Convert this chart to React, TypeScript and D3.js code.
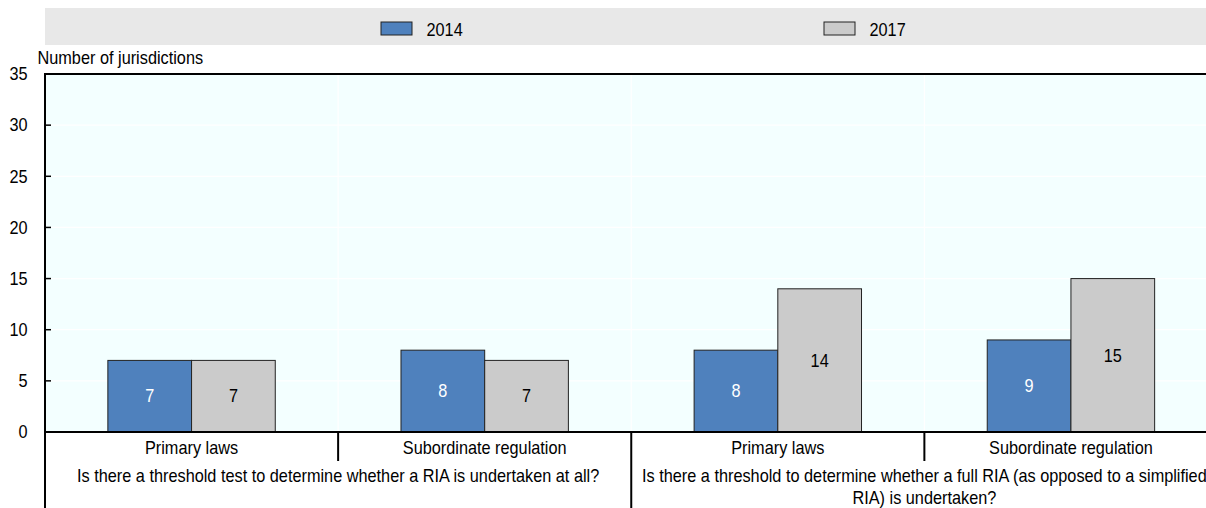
import React from "react";
import * as d3 from "d3";

const seriesNames = ["2014", "2017"];
const categories = ["Primary laws", "Subordinate regulation", "Primary laws", "Subordinate regulation"];
const categoryGroup = [0, 0, 1, 1];
const groupLabelLines = [
  ["Is there a threshold test to determine whether a RIA is undertaken at all?"],
  ["Is there a threshold to determine whether a full RIA (as opposed to a simplified", "RIA) is undertaken?"],
];
const values2014 = [7, 8, 8, 9];
const values2017 = [7, 7, 14, 15];
const yTicks = [0, 5, 10, 15, 20, 25, 30, 35];
const yAxisTitle = "Number of jurisdictions";

const W = 1206;
const H = 508;
const FONT = "'Liberation Sans', Arial, sans-serif";
const COLORS = ["#4f81bd", "#cbcbcb"];
const TEXT_COLORS = ["#ffffff", "#000000"];
const FS = 18;
const SX = 0.905;

function T({ x, y, anchor = "start", fill = "#000", children }: { x: number; y: number; anchor?: string; fill?: string; children: React.ReactNode }) {
  return (
    <g transform={`translate(${x},${y}) scale(${SX},1)`}>
      <text x={0} y={0} textAnchor={anchor as any} dominantBaseline="central" fontSize={FS} fill={fill}>{children}</text>
    </g>
  );
}

export default function App() {
  const left = 45;
  const top = 74;
  const bottom = 432;
  const plotRight = 1217.5;

  const x = d3.scaleBand<number>().domain(categories.map((_, i) => i)).range([left, plotRight]).padding(0);
  const bw = x.bandwidth();
  const xs = d3.scaleBand<string>().domain(seriesNames).range([0, bw]).paddingInner(0).paddingOuter(0.751);
  const y = d3.scaleLinear().domain([0, 35]).range([bottom, top]);

  const seriesValues = [values2014, values2017];
  const nGroups = groupLabelLines.length;
  const groupExtent = d3.range(nGroups).map((g) => {
    const idx = categories.map((_, i) => i).filter((i) => categoryGroup[i] === g);
    const x0 = x(idx[0])!;
    const x1 = x(idx[idx.length - 1])! + bw;
    return [x0, x1];
  });

  return (
    <div style={{ position: "absolute", left: 0, top: 0 }}>
      <svg width={W} height={H} style={{ display: "block", fontFamily: FONT }}>
        <rect x={0} y={0} width={W} height={H} fill="#ffffff" />
        {/* legend band */}
        <rect x={45} y={8} width={W - 45} height={37} fill="#e8e8e8" />
        {seriesNames.map((s, i) => {
          const lx = i === 0 ? 381 : 824;
          return (
            <g key={s}>
              <rect x={lx} y={22} width={31} height={13} fill={COLORS[i]} stroke="#222" strokeWidth={1} />
              <T x={lx + 45.5} y={29.5}>{s}</T>
            </g>
          );
        })}
        {/* plot background */}
        <rect x={left} y={top} width={W - left} height={bottom - top} fill="#f3ffff" />
        {yTicks.filter((t) => t > 0 && t < 35).map((t) => (
          <line key={t} x1={left} x2={W} y1={y(t)} y2={y(t)} stroke="#ffffff" strokeWidth={1.2} />
        ))}
        {categories.slice(1).map((_, i) => (
          <line key={i} x1={x(i + 1)!} x2={x(i + 1)!} y1={top} y2={bottom} stroke="#ffffff" strokeWidth={1.2} />
        ))}
        {/* bars */}
        {seriesNames.map((s, si) =>
          seriesValues[si].map((v, ci) => {
            const bx = x(ci)! + xs(s)!;
            const by = y(v);
            return (
              <g key={s + ci}>
                <rect x={bx} y={by} width={xs.bandwidth()} height={bottom - by} fill={COLORS[si]} stroke="#222" strokeWidth={1} />
                <T x={bx + xs.bandwidth() / 2} y={(by + bottom) / 2} anchor="middle" fill={TEXT_COLORS[si]}>{v}</T>
              </g>
            );
          })
        )}
        {/* axes */}
        <line x1={left} x2={W} y1={top} y2={top} stroke="#000" strokeWidth={2} />
        <line x1={left} x2={W} y1={bottom} y2={bottom} stroke="#000" strokeWidth={2} />
        <line x1={left} x2={left} y1={top - 1} y2={H} stroke="#000" strokeWidth={2} />
        {yTicks.map((t) => (
          <g key={t}>
            {t > 0 && t < 35 && <line x1={left} x2={left + 6} y1={y(t)} y2={y(t)} stroke="#000" strokeWidth={1.5} />}
            <T x={27.5} y={y(t)} anchor="end">{t}</T>
          </g>
        ))}
        <T x={37.5} y={57.5}>{yAxisTitle}</T>
        {/* category separators */}
        {categories.map((_, i) => {
          const bx = x(i)! + bw;
          const isGroupEnd = i === categories.length - 1 || categoryGroup[i] !== categoryGroup[i + 1];
          return <line key={i} x1={bx} x2={bx} y1={bottom} y2={isGroupEnd ? H : 461} stroke="#000" strokeWidth={2} />;
        })}
        {categories.map((c, i) => (
          <T key={i} x={x(i)! + bw / 2} y={448} anchor="middle">{c}</T>
        ))}
        {groupLabelLines.map((lines, g) => (
          <g key={g}>
            {lines.map((ln, li) => (
              <T key={li} x={(groupExtent[g][0] + groupExtent[g][1]) / 2} y={476 + li * 21.5} anchor="middle">{ln}</T>
            ))}
          </g>
        ))}
      </svg>
    </div>
  );
}
